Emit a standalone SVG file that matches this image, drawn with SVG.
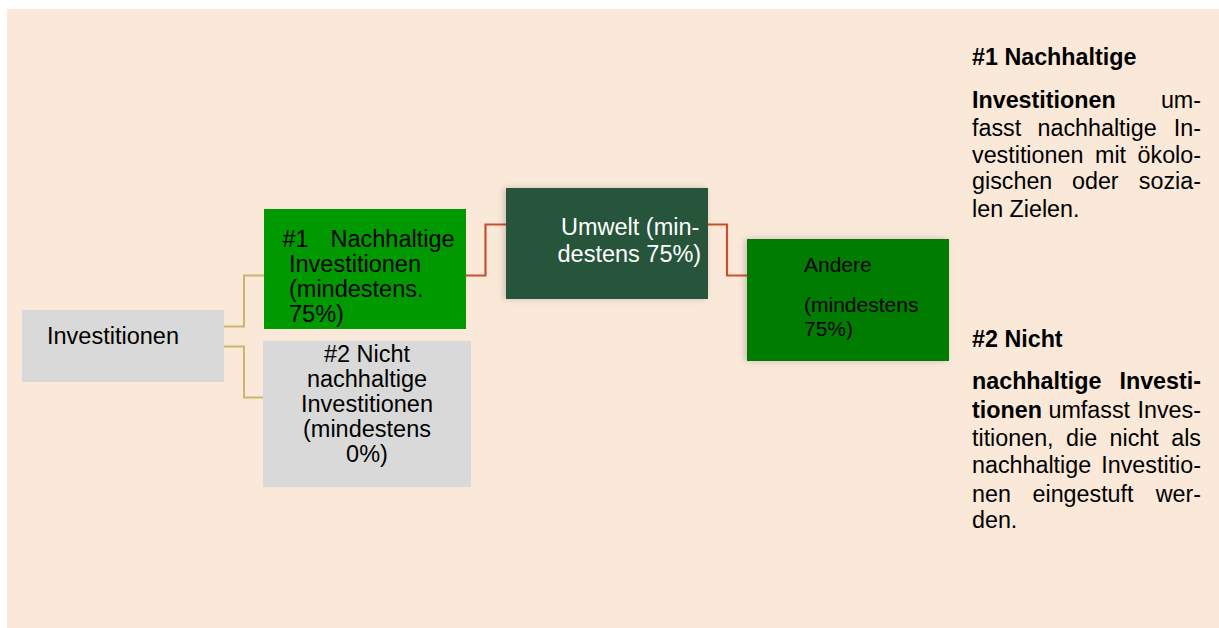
<svg xmlns="http://www.w3.org/2000/svg" width="1219" height="628" viewBox="0 0 1219 628">
<style>
  text { font-family: "Liberation Sans", Arial, sans-serif; fill: #000; }
  .n { font-size: 23.5px; }
  .s { font-size: 21px; }
  .r { font-size: 23.3px; }
  .b { font-weight: bold; }
  .w { fill: #ffffff; }
  .gold { fill: none; stroke: #CDB56A; stroke-width: 2; }
  .red { fill: none; stroke: #C9502F; stroke-width: 2.2; }
</style>
<defs>
  <filter id="sh" x="-10%" y="-10%" width="120%" height="120%">
    <feDropShadow dx="-2" dy="0" stdDeviation="3" flood-color="#000" flood-opacity="0.18"/>
  </filter>
</defs>
<rect x="7" y="9" width="1212" height="619" fill="#FAE8D8"/>
<g id="connectors">
  <polyline class="gold" points="224,326.5 244,326.5 244,275.5 264,275.5"/>
  <polyline class="gold" points="224,346.5 244,346.5 244,397.5 263,397.5"/>
  <polyline class="red" points="466,275.5 485.5,275.5 485.5,224.5 506,224.5"/>
  <polyline class="red" points="708,224.5 727,224.5 727,275.5 747,275.5"/>
</g>
<g id="node-investitionen">
  <rect x="22" y="310" width="202" height="72" fill="#D9D9D9"/>
  <text class="n" x="47" y="343.5">Investitionen</text>
</g>
<g id="node-nachhaltig">
  <rect x="264" y="209" width="202" height="120" fill="#009900"/>
  <text class="n" x="282.5" y="246.7">#1</text>
  <text class="n" x="330.5" y="246.7">Nachhaltige</text>
  <text class="n" x="289" y="271.7">Investitionen</text>
  <text class="n" x="289" y="297">(mindestens.</text>
  <text class="n" x="289" y="321.7">75%)</text>
</g>
<g id="node-nicht-nachhaltig">
  <rect x="263" y="341" width="208" height="146" fill="#D9D9D9"/>
  <text class="n" text-anchor="middle" x="367" y="362.3">#2 Nicht</text>
  <text class="n" text-anchor="middle" x="367" y="387.3">nachhaltige</text>
  <text class="n" text-anchor="middle" x="367" y="412.3">Investitionen</text>
  <text class="n" text-anchor="middle" x="367" y="437.3">(mindestens</text>
  <text class="n" text-anchor="middle" x="367" y="462.3">0%)</text>
</g>
<g id="node-umwelt">
  <rect x="506" y="188" width="202" height="111" fill="#26553A" filter="url(#sh)"/>
  <text class="n w" x="561" y="235">Umwelt (min-</text>
  <text class="n w" x="557.5" y="261.7">destens 75%)</text>
</g>
<g id="node-andere">
  <rect x="747" y="239" width="202" height="122" fill="#007D00" filter="url(#sh)"/>
  <text class="s" x="804" y="271.7">Andere</text>
  <text class="s" x="804" y="311.7">(mindestens</text>
  <text class="s" x="804" y="336">75%)</text>
</g>
<g id="legend-1">
  <text class="r b" x="972" y="65">#1 Nachhaltige</text>
  <text class="r b" x="972" y="108.3">Investitionen</text>
  <text class="r" x="1201" y="108.3" text-anchor="end">um-</text>
  <text class="r" x="972" y="136">fasst</text>
  <text class="r" x="1037.5" y="136">nachhaltige</text>
  <text class="r" x="1201" y="136" text-anchor="end">In-</text>
  <text class="r" x="972" y="162.7">vestitionen</text>
  <text class="r" x="1095" y="162.7">mit</text>
  <text class="r" x="1201" y="162.7" text-anchor="end">ökolo-</text>
  <text class="r" x="972" y="189.3">gischen</text>
  <text class="r" x="1072" y="189.3">oder</text>
  <text class="r" x="1201" y="189.3" text-anchor="end">sozia-</text>
  <text class="r" x="972" y="216.7">len Zielen.</text>
</g>
<g id="legend-2">
  <text class="r b" x="972" y="347.3">#2 Nicht</text>
  <text class="r b" x="972" y="389">nachhaltige</text>
  <text class="r b" x="1201" y="389" text-anchor="end">Investi-</text>
  <text class="r b" x="972" y="418.3">tionen</text>
  <text class="r" x="1048.5" y="418.3">umfasst</text>
  <text class="r" x="1201" y="418.3" text-anchor="end">Inves-</text>
  <text class="r" x="972" y="445.7">titionen,</text>
  <text class="r" x="1066" y="445.7">die</text>
  <text class="r" x="1109.5" y="445.7">nicht</text>
  <text class="r" x="1201" y="445.7" text-anchor="end">als</text>
  <text class="r" x="972" y="473.3">nachhaltige</text>
  <text class="r" x="1201" y="473.3" text-anchor="end">Investitio-</text>
  <text class="r" x="972" y="501.7">nen</text>
  <text class="r" x="1032.5" y="501.7">eingestuft</text>
  <text class="r" x="1201" y="501.7" text-anchor="end">wer-</text>
  <text class="r" x="972" y="528.3">den.</text>
</g>
</svg>
